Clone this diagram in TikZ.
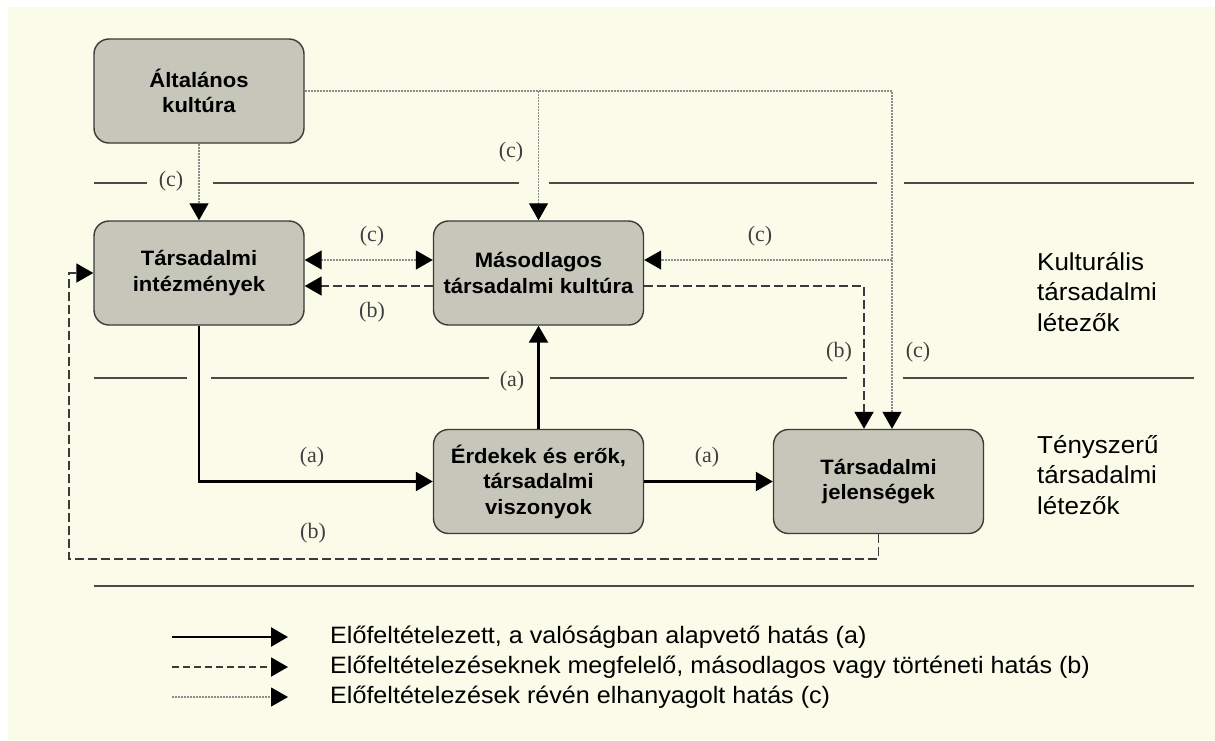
\documentclass[tikz,border=0pt]{standalone}
\usepackage{fontspec}
\setmainfont{Liberation Sans}[FakeStretch=1.06]
\newfontfamily\labfont{Liberation Serif}
\usetikzlibrary{arrows.meta}

\definecolor{cream}{HTML}{FBFBEA}
\definecolor{boxgray}{HTML}{C6C6BA}
\definecolor{edgegray}{HTML}{3A3A3A}
\definecolor{cgray}{HTML}{8C8C8C}
\definecolor{sepgray}{HTML}{4A4A4A}
\definecolor{labgray}{HTML}{404040}

\begin{document}
\begin{tikzpicture}[x=1pt, y=-1pt]
		
		\tikzstyle{box}=[rectangle, rounded corners=15pt, draw=edgegray, line width=1.4pt, fill=boxgray, minimum width=210pt, minimum height=104pt, inner sep=0pt, align=center, font=\fontsize{20.8}{25.5}\selectfont\bfseries]
		\tikzstyle{aline}=[-{Triangle[length=17pt, width=19pt, color=black]}, line width=2.4pt, black]
		\tikzstyle{bline}=[-{Triangle[length=17pt, width=19pt, color=black]}, line width=1.9pt, edgegray, dash pattern=on 9pt off 4pt]
		\tikzstyle{cline}=[-{Triangle[length=17pt, width=19pt, color=black]}, line width=1.2pt, cgray, dash pattern=on 2pt off 1pt]
		\tikzstyle{sep}=[line width=2pt, sepgray]
		\tikzstyle{lab}=[inner sep=1pt, text=labgray, font=\labfont\fontsize{22}{24}\selectfont]
		\tikzstyle{side}=[anchor=north west, inner sep=0pt, align=left, font=\fontsize{24.5}{30.5}\selectfont]
		\tikzstyle{legend}=[anchor=west, inner sep=0pt, font=\fontsize{23.7}{28}\selectfont]
		
		\useasboundingbox (0,0) rectangle (1215,740);
		\fill[white] (0,0) rectangle (1215,740);
		\fill[cream] (8,7) rectangle (1215,740);
		
		% level separators
		\foreach \a/\b in {94/147, 213/519, 549/877, 904/1194}
			\draw[sep] (\a,183) -- (\b,183);
		\foreach \a/\b in {94/187, 211/489, 550/847, 903/1194}
			\draw[sep] (\a,378) -- (\b,378);
		\draw[sep] (94,586) -- (1194,586);
		
		\node[box] (gen)  at (199,91)    {\'Altal\'anos\\kult\'ura};
		\node[box] (inst) at (199,273)   {T\'arsadalmi\\int\'ezm\'enyek};
		\node[box] (sec)  at (538.5,273) {M\'asodlagos\\t\'arsadalmi kult\'ura};
		\node[box] (int)  at (538.5,481.5) {\'Erdekek \'es er\H{o}k,\\t\'arsadalmi\\viszonyok};
		\node[box] (phen) at (878.5,481.5) {T\'arsadalmi\\jelens\'egek};
		
		\node[side] (kult) at (1037,252) {Kultur\'alis\\t\'arsadalmi\\l\'etez\H{o}k};
		\node[side] (teny) at (1037,435) {T\'enyszer\H{u}\\t\'arsadalmi\\l\'etez\H{o}k};
		
		% neglected links (c)
		\draw[cline] (gen.south) -- (inst.north);
		\draw[cline] (gen.east) -| (sec.north);
		\draw[cline] (gen.east) -| ([xshift=13.5pt]phen.north);
		\coordinate (cj) at (892,260);
		\draw[cline] (cj) -- (cj -| sec.east);
		\draw[cline, {Triangle[length=17pt, width=19pt, color=black]}-{Triangle[length=17pt, width=19pt, color=black]}] ([yshift=13pt]inst.east) -- ([yshift=13pt]sec.west);
		
		% secondary links (b)
		\draw[bline] ([yshift=-13pt]sec.west) -- ([yshift=-13pt]inst.east);
		\draw[bline] ([yshift=-13pt]sec.east) -| ([xshift=-14.5pt]phen.north);
		\coordinate (bc) at (69,559);
		\draw[bline] (phen.south) |- (bc) |- (inst.west);
		
		% basic links (a)
		\draw[aline] (inst.south) |- (int.west);
		\draw[aline] (int.north) -- (sec.south);
		\draw[aline] (int.east) -- (phen.west);
		
		\node[lab] (c1) at (171,181) {(c)};
		\node[lab] (c2) at (511,152) {(c)};
		\node[lab] (c3) at (372,236) {(c)};
		\node[lab] (b1) at (372,312) {(b)};
		\node[lab] (c4) at (760,236) {(c)};
		\node[lab] (b2) at (839,352) {(b)};
		\node[lab] (c5) at (918,352) {(c)};
		\node[lab] (a1) at (512,381) {(a)};
		\node[lab] (a2) at (312,457) {(a)};
		\node[lab] (a3) at (707,457) {(a)};
		\node[lab] (b3) at (313,533) {(b)};
		
		% legend
		\coordinate (la1) at (172,637); \coordinate (lb1) at (288,637);
		\coordinate (la2) at (172,667); \coordinate (lb2) at (288,667);
		\coordinate (la3) at (172,697); \coordinate (lb3) at (288,697);
		\draw[aline] (la1) -- (lb1);
		\draw[bline, dash pattern=on 7pt off 4pt] (la2) -- (lb2);
		\draw[cline] (la3) -- (lb3);
		\node[legend] (t1) at (330,637) {El\H{o}felt\'etelezett, a val\'os\'agban alapvet\H{o} hat\'as (a)};
		\node[legend] (t2) at (330,667) {El\H{o}felt\'etelez\'eseknek megfelel\H{o}, m\'asodlagos vagy t\"ort\'eneti hat\'as (b)};
		\node[legend] (t3) at (330,697) {El\H{o}felt\'etelez\'esek r\'ev\'en elhanyagolt hat\'as (c)};
		
\end{tikzpicture}
\end{document}
